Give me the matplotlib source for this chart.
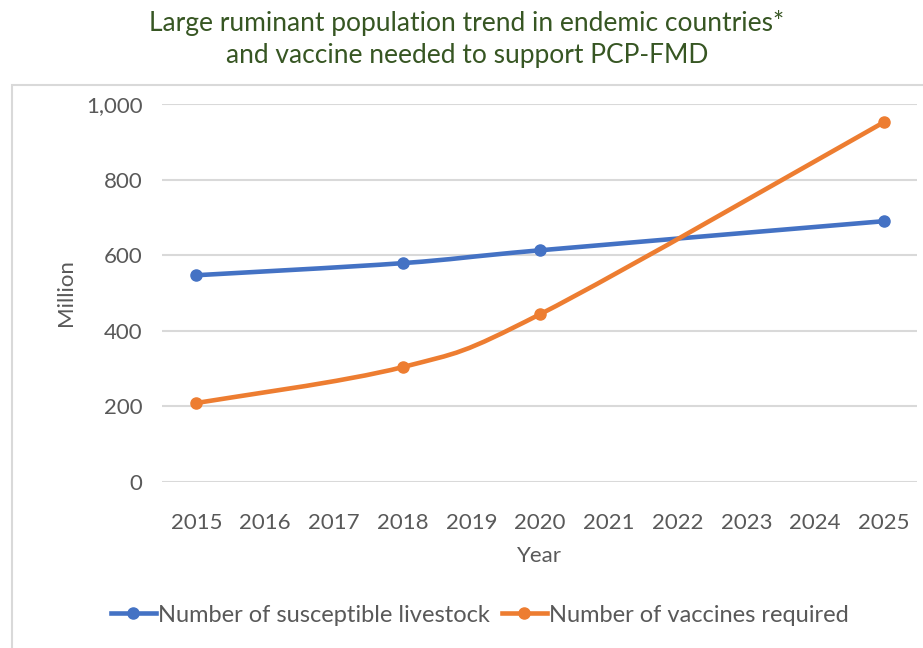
import matplotlib
matplotlib.use("Agg")
import matplotlib.pyplot as plt
from matplotlib.path import Path
from matplotlib.patches import PathPatch, Rectangle
from matplotlib.lines import Line2D
import numpy as np

plt.rcParams['font.family'] = ['Lato', 'DejaVu Sans']

years = [2015, 2016, 2017, 2018, 2019, 2020, 2021, 2022, 2023, 2024, 2025]
data_years = [2015, 2018, 2020, 2025]
livestock = [547, 579, 613, 690]
vaccines = [209, 304, 444, 952]
yticks = [0, 200, 400, 600, 800, 1000]
ytick_labels = ["0", "200", "400", "600", "800", "1,000"]

blue = "#4472C4"
orange = "#ED7D31"
grey_text = "#595959"


def smooth_path(xs, ys):
    # Bezier path through the points (Excel style smoothed line)
    pts = np.column_stack([xs, ys]).astype(float)
    verts = [pts[0]]
    codes = [Path.MOVETO]
    n = len(pts)
    for i in range(n - 1):
        p0 = pts[i - 1] if i > 0 else pts[i]
        p1, p2 = pts[i], pts[i + 1]
        p3 = pts[i + 2] if i + 2 < n else pts[i + 1]
        c1 = p1 + (p2 - p0) / 6
        c2 = p2 - (p3 - p1) / 6
        verts += [c1, c2, p2]
        codes += [Path.CURVE4] * 3
    return Path(verts, codes)


fig = plt.figure(figsize=(9.23, 6.48), dpi=100)
fig.patches.append(Rectangle((12 / 923, -0.1), 1.2, (648 - 85) / 648 + 0.1,
                             transform=fig.transFigure, fill=False,
                             edgecolor="#D9D9D9", linewidth=1.5))

ax = fig.add_axes([162 / 923, (648 - 482) / 648, (917 - 162) / 923, (482 - 104) / 648])

for vals, col in [(livestock, blue), (vaccines, orange)]:
    ax.add_patch(PathPatch(smooth_path(data_years, vals), facecolor="none",
                           edgecolor=col, linewidth=3.3, capstyle="round",
                           zorder=3, clip_on=False))
    ax.plot(data_years, vals, linestyle="none", marker="o", markersize=8,
            color=col, zorder=4, clip_on=False)

ax.set_xlim(2014.5, 2025.48)
ax.set_ylim(0, 1000)
ax.set_yticks(yticks)
ax.set_yticklabels(ytick_labels)
ax.set_xticks(years)
ax.set_xticklabels([str(y) for y in years])
ax.grid(axis="y", color="#D9D9D9", linewidth=1.5)
ax.set_axisbelow(True)
for s in ax.spines.values():
    s.set_visible(False)
ax.tick_params(length=0, labelsize=16, colors=grey_text, pad=14)
ax.tick_params(axis="x", pad=22)

ax.set_ylabel("Million", fontsize=16, color=grey_text, labelpad=7)
ax.set_xlabel("Year", fontsize=16, color=grey_text, labelpad=10)

fig.text(467 / 923, 1 - 39 / 648,
         "Large ruminant population trend in endemic countries*\nand vaccine needed to support PCP-FMD",
         ha="center", va="center", fontsize=19, color="#375623", linespacing=1.3)

handles = [Line2D([], [], color=blue, linewidth=3.3, marker="o", markersize=8),
           Line2D([], [], color=orange, linewidth=3.3, marker="o", markersize=8)]
fig.legend(handles, ["Number of susceptible livestock", "Number of vaccines required"],
           loc="center", bbox_to_anchor=(480 / 923, 1 - 615 / 648), ncol=2,
           frameon=False, fontsize=17, labelcolor=grey_text, handlelength=1.9,
           handletextpad=0.1, columnspacing=0.5)

fig.savefig("out.png", dpi=100)
